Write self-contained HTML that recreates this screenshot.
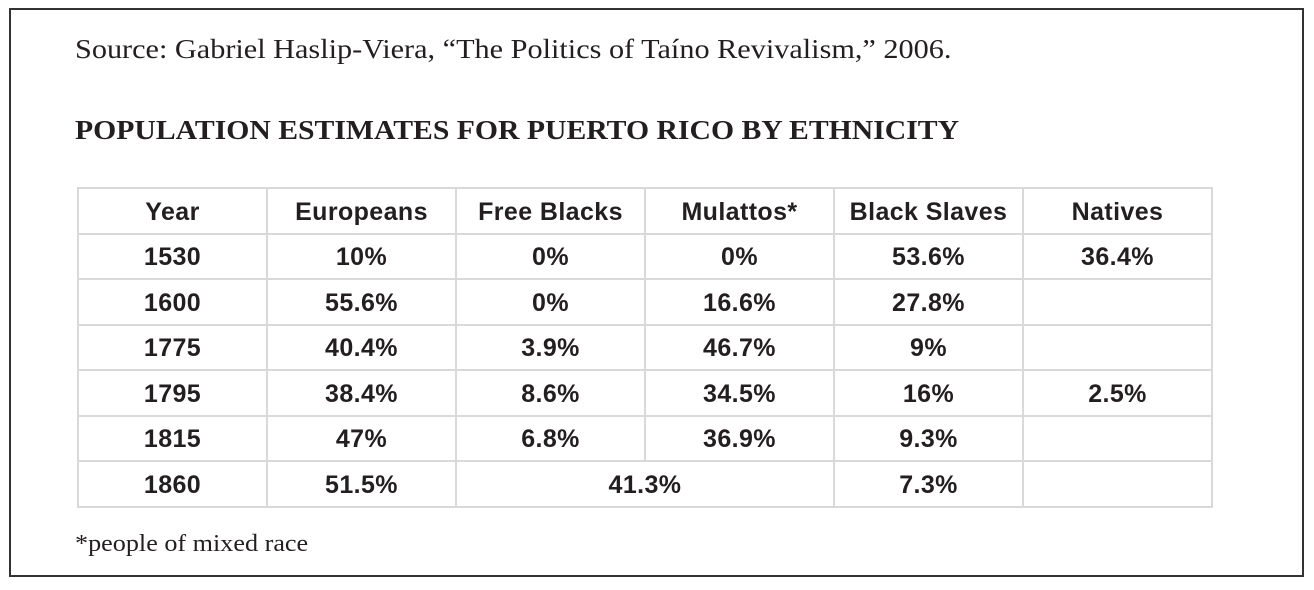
<!DOCTYPE html>
<html><head><style>
body{margin:0;width:1314px;height:590px;background:#fff;position:relative;overflow:hidden}
.box{position:absolute;left:9px;top:8px;width:1295px;height:569px;border:2px solid #333;box-sizing:border-box}
.t{position:absolute;font-family:"Liberation Serif",serif;color:#231f20;white-space:nowrap;transform-origin:0 0}
table{position:absolute;left:77px;top:187px;border-collapse:collapse;font-family:"Liberation Sans",sans-serif;font-weight:bold;font-size:25px;letter-spacing:0.4px;color:#231f20}
td{border:2px solid #d9d9d9;height:40.5px;padding:3px 0 0 0;text-align:center;width:187px}
</style></head><body>
<div class="box"></div>
<div class="t" style="left:75px;top:34px;font-size:27px;transform:scaleX(1.12)">Source: Gabriel Haslip-Viera, “The Politics of Taíno Revivalism,” 2006.</div>
<div class="t" style="left:75px;top:115px;font-size:27px;font-weight:bold;transform:scaleX(1.10)">POPULATION ESTIMATES FOR PUERTO RICO BY ETHNICITY</div>
<table>
<tr><td>Year</td><td>Europeans</td><td>Free Blacks</td><td>Mulattos*</td><td>Black Slaves</td><td>Natives</td></tr>
<tr><td>1530</td><td>10%</td><td>0%</td><td>0%</td><td>53.6%</td><td>36.4%</td></tr>
<tr><td>1600</td><td>55.6%</td><td>0%</td><td>16.6%</td><td>27.8%</td><td></td></tr>
<tr><td>1775</td><td>40.4%</td><td>3.9%</td><td>46.7%</td><td>9%</td><td></td></tr>
<tr><td>1795</td><td>38.4%</td><td>8.6%</td><td>34.5%</td><td>16%</td><td>2.5%</td></tr>
<tr><td>1815</td><td>47%</td><td>6.8%</td><td>36.9%</td><td>9.3%</td><td></td></tr>
<tr><td>1860</td><td>51.5%</td><td colspan="2">41.3%</td><td>7.3%</td><td></td></tr>
</table>
<div class="t" style="left:75px;top:531px;font-size:24px;transform:scaleX(1.09)">*people of mixed race</div>
</body></html>
